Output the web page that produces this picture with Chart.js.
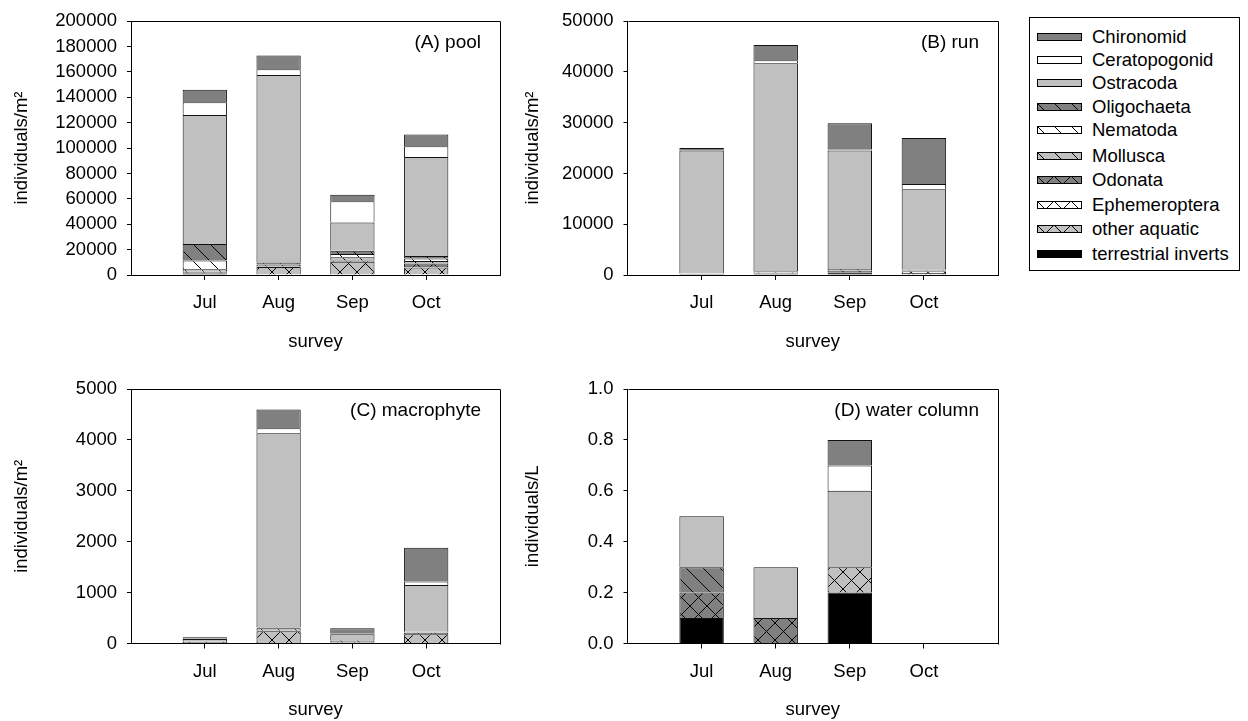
<!DOCTYPE html>
<html><head><meta charset="utf-8">
<script src="https://cdn.jsdelivr.net/npm/chart.js@4"></script>
<style>
html,body{margin:0;padding:0;background:#fff;}
body{width:1248px;height:721px;position:relative;overflow:hidden;font-family:"Liberation Sans",Arial,sans-serif;}
canvas.c{position:absolute;}
#legend{position:absolute;left:1029px;top:17px;width:211px;height:254px;border:1px solid #000;box-sizing:border-box;}
.item{position:absolute;left:0;height:24px;width:205px;}
.item canvas{position:absolute;left:7px;}
.item span{position:absolute;left:62px;top:0;line-height:24px;font-size:18.5px;color:#000;white-space:nowrap;}
</style></head>
<body>
<canvas class="c" id="cA" width="520" height="360" style="left:0;top:0"></canvas>
<canvas class="c" id="cB" width="500" height="360" style="left:520px;top:0"></canvas>
<canvas class="c" id="cC" width="520" height="353" style="left:0;top:368px"></canvas>
<canvas class="c" id="cD" width="500" height="353" style="left:520px;top:368px"></canvas>
<div id="legend"></div>
<script>
// ---------- data ----------
const months = ['Jul', 'Aug', 'Sep', 'Oct'];
// stack order, bottom to top
const taxa = ['terrestrial inverts', 'other aquatic', 'Ephemeroptera', 'Odonata', 'Mollusca',
              'Nematoda', 'Oligochaeta', 'Ostracoda', 'Ceratopogonid', 'Chironomid'];
// rows follow taxa order, columns follow months
const poolValues = [
  [1200, 0, 0, 0],
  [300, 6400, 10500, 6000],
  [200, 0, 0, 1000],
  [800, 300, 1000, 2000],
  [2000, 1500, 2500, 2000],
  [7000, 300, 2500, 2000],
  [13000, 1300, 2700, 2000],
  [101500, 147700, 22100, 78000],
  [10000, 4500, 16800, 8500],
  [10000, 11000, 5200, 9100]
];
const runValues = [
  [200, 200, 500, 100],
  [50, 100, 100, 300],
  [0, 0, 0, 300],
  [0, 100, 200, 100],
  [50, 100, 100, 100],
  [0, 200, 100, 100],
  [0, 100, 200, 100],
  [24200, 40900, 23300, 15800],
  [100, 600, 200, 1000],
  [400, 3000, 5200, 9100]
];
const macrophyteValues = [
  [0, 0, 0, 0],
  [10, 240, 20, 180],
  [0, 0, 10, 0],
  [0, 10, 0, 30],
  [20, 50, 20, 10],
  [0, 10, 10, 10],
  [5, 10, 10, 0],
  [55, 3810, 110, 920],
  [5, 100, 10, 70],
  [30, 370, 110, 660]
];
const waterColumnValues = [
  [0.1, 0, 0.2, 0],
  [0, 0, 0.1, 0],
  [0, 0, 0, 0],
  [0.1, 0.1, 0, 0],
  [0, 0, 0, 0],
  [0, 0, 0, 0],
  [0.1, 0, 0, 0],
  [0.2, 0.2, 0.3, 0],
  [0, 0, 0.1, 0],
  [0, 0, 0.1, 0]
];
const poolTicks = [0, 200000, 20000];
const runTicks = [0, 50000, 10000];
const macrophyteTicks = [0, 5000, 1000];
const waterColumnTicks = [0, 1, 0.2];

// ---------- styles ----------
const FONT = '"Liberation Sans", Arial, sans-serif';
Chart.defaults.font.family = FONT;
Chart.defaults.color = '#000';
const FS = 18.5;

const fillSpec = [
  ['#000000', null], ['#c0c0c0', 'cross'], ['#ffffff', 'cross'], ['#808080', 'cross'],
  ['#c0c0c0', 'diag'], ['#ffffff', 'diag'], ['#808080', 'diag'],
  ['#c0c0c0', null], ['#ffffff', null], ['#808080', null]
];
function makeFill(bg, hatch) {
  if (!hatch) return bg;
  const s = 17;
  const c = document.createElement('canvas'); c.width = s; c.height = s;
  const g = c.getContext('2d');
  g.fillStyle = bg; g.fillRect(0, 0, s, s);
  g.strokeStyle = '#000'; g.lineWidth = 1;
  g.beginPath();
  for (const o of [-s, 0, s]) {
    g.moveTo(o, 0); g.lineTo(o + s, s);
    if (hatch === 'cross') { g.moveTo(o, s); g.lineTo(o + s, 0); }
  }
  g.stroke();
  return g.createPattern(c, 'repeat');
}
const fills = fillSpec.map(f => makeFill(f[0], f[1]));

const framePlugin = {
  id: 'frame',
  afterDraw(chart, args, opts) {
    const {ctx, chartArea: a} = chart;
    ctx.save();
    ctx.strokeStyle = '#000'; ctx.lineWidth = 1;
    const l = Math.round(a.left) + 0.5, t = Math.round(a.top) + 0.5,
          r = Math.round(a.right) + 0.5, b = Math.round(a.bottom) + 0.5;
    ctx.beginPath();
    ctx.moveTo(l, t); ctx.lineTo(r, t); ctx.lineTo(r, b);
    ctx.stroke();
    ctx.fillStyle = '#000';
    ctx.font = '19px ' + FONT;
    ctx.textAlign = 'right'; ctx.textBaseline = 'middle';
    ctx.fillText(opts.label, a.right - 19, a.top + 22);
    ctx.restore();
  }
};

function makeChart(id, values, tk, p) {
  new Chart(document.getElementById(id), {
    type: 'bar',
    data: {
      datasets: taxa.map((t, k) => ({
        label: t,
        data: months.map((m, i) => ({x: i + 1, y: values[k][i]})),
        backgroundColor: fills[k],
        borderColor: '#111', borderWidth: 1, borderSkipped: 'start',
        barPercentage: 0.6, categoryPercentage: 1
      }))
    },
    options: {
      responsive: false, animation: false, devicePixelRatio: 1,
      layout: {padding: p.pad},
      plugins: {legend: {display: false}, tooltip: {enabled: false}, frame: {label: p.label}},
      scales: {
        x: {
          type: 'linear', stacked: true, min: 0, max: months.length + 1, offset: false,
          afterBuildTicks: s => { s.ticks = months.map((m, i) => ({value: i + 1})); },
          afterFit: s => { s.height = p.xh; },
          ticks: {callback: v => months[Math.round(v) - 1], font: {size: FS}, padding: 12, maxRotation: 0, autoSkip: false},
          grid: {display: true, drawOnChartArea: false, drawTicks: true, tickLength: 5, color: '#000', offset: false},
          border: {display: true, color: '#000'},
          title: {display: true, text: 'survey', font: {size: FS}, padding: {top: 0, bottom: p.xtp}}
        },
        y: {
          stacked: true, min: tk[0], max: tk[1],
          ticks: {stepSize: tk[2], callback: p.fmt, font: {size: FS}, padding: 10},
          afterFit: s => { s.width = p.yw; },
          grid: {drawOnChartArea: false, drawTicks: true, tickLength: 4, color: '#000'},
          border: {display: true, color: '#000'},
          title: {display: true, text: p.ytitle, font: {size: FS}, padding: {top: p.ytp, bottom: 0}}
        }
      }
    },
    plugins: [framePlugin]
  });
}
const intFmt = v => String(v);
const decFmt = v => Number(v).toFixed(1);

makeChart('cA', poolValues, poolTicks, {pad: {left: 0, top: 17, right: 20, bottom: 0}, xh: 85, xtp: 7, yw: 131, ytp: 11, fmt: intFmt, ytitle: 'individuals/m²', label: '(A) pool'});
makeChart('cB', runValues, runTicks, {pad: {left: 0, top: 17, right: 22, bottom: 0}, xh: 85, xtp: 7, yw: 107.5, ytp: 2, fmt: intFmt, ytitle: 'individuals/m²', label: '(B) run'});
makeChart('cC', macrophyteValues, macrophyteTicks, {pad: {left: 0, top: 18, right: 20, bottom: 0}, xh: 77.5, xtp: 0, yw: 131, ytp: 11, fmt: intFmt, ytitle: 'individuals/m²', label: '(C) macrophyte'});
makeChart('cD', waterColumnValues, waterColumnTicks, {pad: {left: 0, top: 18, right: 22, bottom: 0}, xh: 77.5, xtp: 0, yw: 107.5, ytp: 2, fmt: decFmt, ytitle: 'individuals/L', label: '(D) water column'});

// ---------- legend ----------
const legendRowY = [19, 42, 65, 89, 112, 138, 162, 187, 211, 236]; // centres relative to legend box
const legend = document.getElementById('legend');
for (let j = 0; j < taxa.length; j++) {
  const k = taxa.length - 1 - j;
  const item = document.createElement('div');
  item.className = 'item';
  item.style.top = (legendRowY[j] - 12) + 'px';
  const sw = document.createElement('canvas');
  sw.width = 45; sw.height = 8;
  sw.style.top = '8px';
  const g = sw.getContext('2d');
  g.fillStyle = makeFill(fillSpec[k][0], fillSpec[k][1]);
  g.fillRect(0, 0, 45, 8);
  g.strokeStyle = '#000'; g.lineWidth = 1;
  g.strokeRect(0.5, 0.5, 44, 7);
  const sp = document.createElement('span');
  sp.textContent = taxa[k];
  item.appendChild(sw); item.appendChild(sp);
  legend.appendChild(item);
}
</script>
</body></html>
